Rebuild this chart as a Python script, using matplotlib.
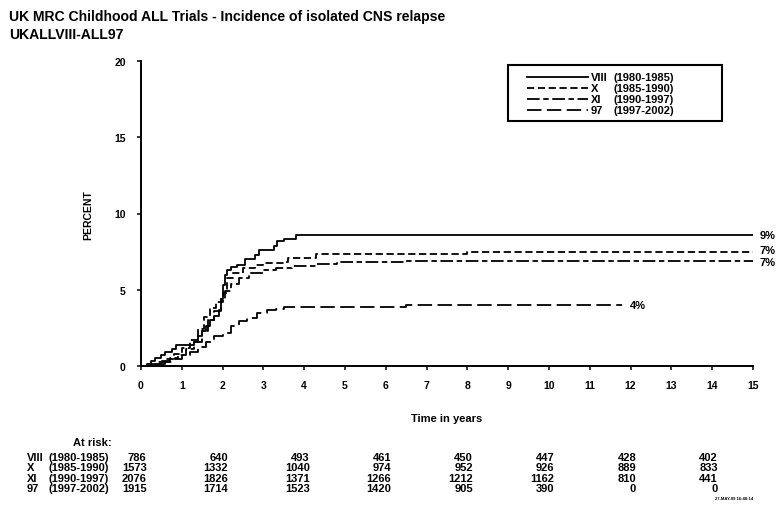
import matplotlib
matplotlib.use('Agg')
import matplotlib.pyplot as plt
import matplotlib.transforms as mtransforms
from matplotlib.lines import Line2D
from matplotlib.patches import Rectangle

plt.rcParams['font.family'] = ['Liberation Sans', 'DejaVu Sans']
plt.rcParams['font.weight'] = 'bold'

# cumulative incidence of isolated CNS relapse (%), step curves
viii_t = [0, 0.15, 0.25, 0.35, 0.5, 0.6, 0.75, 0.85, 1.3, 1.4, 1.5, 1.6, 1.7, 1.8,
          1.9, 1.95, 2.0, 2.05, 2.1, 2.2, 2.35, 2.55, 2.8, 2.9, 3.25, 3.33, 3.5, 3.8, 15]
viii_v = [0, 0.15, 0.3, 0.5, 0.7, 0.9, 1.1, 1.35, 1.6, 2.0, 2.3, 2.6, 3.0, 3.3,
          3.7, 4.4, 5.3, 6.0, 6.3, 6.5, 6.6, 7.0, 7.3, 7.6, 7.9, 8.2, 8.3, 8.6, 8.6]

x_t = [0, 0.2, 0.4, 0.6, 0.8, 1.0, 1.2, 1.4, 1.55, 1.7, 1.85, 2.0, 2.1, 2.25,
       2.5, 2.8, 3.0, 3.5, 3.6, 4.3, 8.0, 15]
x_v = [0, 0.1, 0.25, 0.45, 0.8, 1.2, 1.7, 2.4, 3.2, 3.8, 4.2, 4.8, 5.8, 6.1,
       6.4, 6.6, 6.75, 6.85, 7.05, 7.35, 7.45, 7.45]

xi_t = [0, 0.3, 0.5, 0.7, 0.9, 1.1, 1.3, 1.5, 1.65, 1.8, 1.95, 2.05, 2.2, 2.4,
        2.65, 3.0, 3.3, 3.7, 4.3, 4.8, 6.5, 15]
xi_v = [0, 0.1, 0.3, 0.5, 0.7, 1.1, 1.6, 2.3, 3.0, 3.6, 4.4, 4.9, 5.4, 5.8,
        6.1, 6.3, 6.45, 6.55, 6.7, 6.8, 6.9, 6.9]

t97_t = [0, 0.4, 0.6, 0.8, 1.0, 1.2, 1.4, 1.6, 1.8, 2.0, 2.2, 2.4, 2.6, 2.85,
         3.1, 3.3, 3.5, 4.5, 6.5, 11.8]
t97_v = [0, 0.1, 0.25, 0.45, 0.7, 0.95, 1.25, 1.6, 1.95, 2.15, 2.6, 2.95, 3.15, 3.5,
         3.65, 3.75, 3.85, 3.9, 4.0, 4.0]

trial_names = ['VIII', 'X', 'XI', '97']
trial_periods = ['(1980-1985)', '(1985-1990)', '(1990-1997)', '(1997-2002)']

# numbers at risk every 2 years
risk_years = [0, 2, 4, 6, 8, 10, 12, 14]
risk_viii = [786, 640, 493, 461, 450, 447, 428, 402]
risk_x = [1573, 1332, 1040, 974, 952, 926, 889, 833]
risk_xi = [2076, 1826, 1371, 1266, 1212, 1162, 810, 441]
risk_97 = [1915, 1714, 1523, 1420, 905, 390, 0, 0]

curves = [(viii_t, viii_v), (x_t, x_v), (xi_t, xi_v), (t97_t, t97_v)]
risks = [risk_viii, risk_x, risk_xi, risk_97]
styles = ['-', (0, (4, 2)), (0, (7, 2, 3, 2)), (0, (8, 3))]
label_dy = [0, 2, -1, 0]  # nudge end labels apart (points)

W, H = 777, 506
fig = plt.figure(figsize=(W / 100, H / 100), dpi=100)
ax = fig.add_axes([141 / W, 1 - 367 / H, (753 - 141) / W, (367 - 62) / H])


def fx(px):
    return px / W


def fy(py):
    return 1 - py / H


for (t, v), ls, dy in zip(curves, styles, label_dy):
    ax.plot(t, v, drawstyle='steps-post', color='black', lw=1.3, linestyle=ls)
    tr = mtransforms.offset_copy(ax.transData, fig=fig, x=5, y=dy, units='points')
    ax.text(t[-1], v[-1], '%d%%' % round(v[-1]), transform=tr, fontsize=8,
            fontweight='bold', va='center', ha='left', clip_on=False)

ax.set_xlim(0, 15)
ax.set_ylim(0, 20)
ax.set_xticks(range(0, 16))
ax.set_yticks([0, 5, 10, 15, 20])
for s in ['top', 'right']:
    ax.spines[s].set_visible(False)
for s in ['left', 'bottom']:
    ax.spines[s].set_linewidth(1.4)
ax.tick_params(direction='out', length=3, width=1.1, labelsize=7.5)
ax.tick_params(axis='x', pad=7)
ax.tick_params(axis='y', pad=8)
for lab in ax.get_xticklabels() + ax.get_yticklabels():
    lab.set_fontweight('bold')

fig.text(fx(88), fy(215), 'PERCENT', rotation=90, fontsize=7.5, fontweight='bold',
         ha='center', va='center')
fig.text(fx(447), fy(419), 'Time in years', fontsize=8, fontweight='bold',
         ha='center', va='center')

fig.text(fx(9), fy(17), 'UK MRC Childhood ALL Trials - Incidence of isolated CNS relapse',
         fontsize=10.1, fontweight='bold', va='center')
fig.text(fx(9), fy(35), 'UKALLVIII-ALL97', fontsize=10.1, fontweight='bold', va='center')

# legend box
fig.patches.append(Rectangle((fx(508), fy(122)), fx(722 - 508), (122 - 66) / H,
                             transform=fig.transFigure, fill=False, lw=1.5,
                             edgecolor='black'))
leg_rows = [78, 89, 100, 111]
for name, period, ls, py in zip(trial_names, trial_periods, styles, leg_rows):
    fig.lines.append(Line2D([fx(527), fx(588)], [fy(py), fy(py)],
                            transform=fig.transFigure, color='black', lw=1.3,
                            linestyle=ls))
    fig.text(fx(591), fy(py), name, fontsize=8, fontweight='bold', va='center')
    fig.text(fx(614), fy(py), period, fontsize=8, fontweight='bold', va='center')

# at-risk table
fig.text(fx(73), fy(443), 'At risk:', fontsize=8, fontweight='bold', va='center')
tab = mtransforms.blended_transform_factory(ax.transData, fig.transFigure)
tab = mtransforms.offset_copy(tab, fig=fig, x=4, y=0, units='points')
table_rows = [458, 468.5, 479, 489.5]
for name, period, counts, py in zip(trial_names, trial_periods, risks, table_rows):
    fig.text(fx(27), fy(py), name, fontsize=8, fontweight='bold', va='center')
    fig.text(fx(49), fy(py), period, fontsize=8, fontweight='bold', va='center')
    for yr, n in zip(risk_years, counts):
        fig.text(yr, fy(py), str(n), transform=tab, fontsize=8, fontweight='bold',
                 ha='right', va='center')

fig.text(fx(753), fy(499), '27-MAY-09 16:48:14', fontsize=3, ha='right', va='center')

fig.savefig('out.png', dpi=100)
